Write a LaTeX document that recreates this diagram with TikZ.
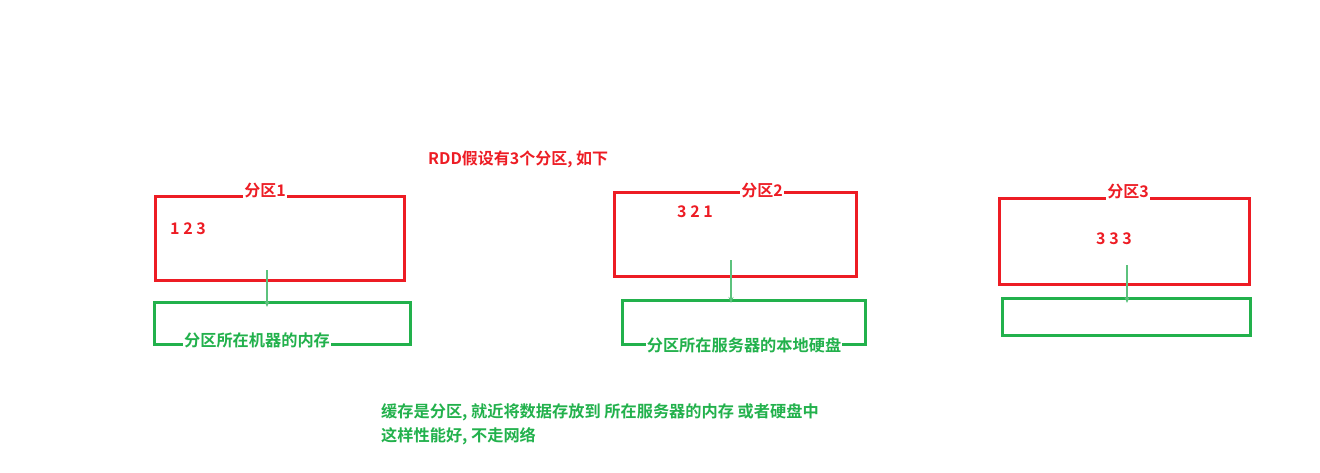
\documentclass[tikz,border=0pt]{standalone}
\usepackage{fontspec}
\newfontfamily\cjk{Noto Sans CJK SC}[BoldFont={* Bold}]
\usetikzlibrary{arrows.meta}
\definecolor{pred}{HTML}{ED1C24}
\definecolor{pgreen}{HTML}{22B14C}
\definecolor{parrow}{HTML}{5CC27D}
\tikzset{
  redbox/.style={draw=pred, line width=3pt},
  greenbox/.style={draw=pgreen, line width=3pt},
  redtxt/.style={text=pred, font=\cjk\bfseries\fontsize{16}{18}\selectfont, inner sep=1pt},
  greentxt/.style={text=pgreen, font=\cjk\bfseries\fontsize{16.2}{18}\selectfont, inner sep=1pt},
  onedge/.style={fill=white},
  cachearrow/.style={draw=parrow, line width=1.6pt, -{Stealth[length=6pt,width=5pt]}},
}
\begin{document}
\begin{tikzpicture}[x=1pt,y=-1pt]
\useasboundingbox (0,0) rectangle (1320,473);
% partition 1
\draw[redbox] (155,197) rectangle (404,280);
\draw[greenbox] (154,302) rectangle (410,344);
\coordinate (a1s) at (267,270);
\coordinate (a1e) at (267,307);
\draw[cachearrow] (a1s) -- (a1e);
\node[redtxt, onedge] (p1) at (265,191) {分区1};
\node[redtxt] (d1) at (188,229) {1 2 3};
\node[greentxt, onedge] (g1) at (257,340) {分区所在机器的内存};
% partition 2
\draw[redbox] (614,193) rectangle (856,276);
\draw[greenbox] (622,300) rectangle (865,344);
\coordinate (a2s) at (731,260);
\coordinate (a2e) at (731,303);
\draw[cachearrow] (a2s) -- (a2e);
\node[redtxt, onedge] (p2) at (762,191) {分区2};
\node[redtxt] (d2) at (695,212) {3 2 1};
\node[greentxt, onedge] (g2) at (744,345) {分区所在服务器的本地硬盘};
% partition 3
\draw[redbox] (999,199) rectangle (1249,284);
\draw[greenbox] (1002,298) rectangle (1250,335);
\coordinate (a3s) at (1127,265);
\coordinate (a3e) at (1127,303);
\draw[cachearrow] (a3s) -- (a3e);
\node[redtxt, onedge] (p3) at (1128,192) {分区3};
\node[redtxt] (d3) at (1114,239) {3 3 3};
% texts
\node[redtxt, anchor=west] (title) at (427,159) {RDD假设有3个分区, 如下};
\node[greentxt, anchor=north west, align=left, font=\cjk\bfseries\fontsize{16.2}{24}\selectfont] (note) at (380,402) {缓存是分区, 就近将数据存放到 所在服务器的内存 或者硬盘中\\这样性能好, 不走网络};
\end{tikzpicture}
\end{document}
